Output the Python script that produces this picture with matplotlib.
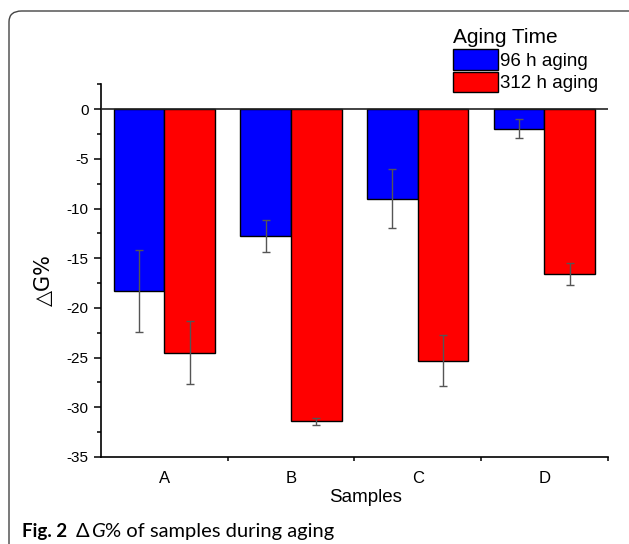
import matplotlib
matplotlib.use("Agg")
import matplotlib.pyplot as plt
from matplotlib.patches import FancyBboxPatch, Patch
import numpy as np

categories = ["A", "B", "C", "D"]
series_names = ["96 h aging", "312 h aging"]
vals_96 = [-18.3, -12.8, -9.0, -1.95]
err_96 = [4.1, 1.6, 2.95, 1.0]
vals_312 = [-24.5, -31.4, -25.3, -16.6]
err_312 = [3.15, 0.35, 2.55, 1.07]
legend_title = "Aging Time"
x_label = "Samples"
y_label = "\u25b3G%"

W, H = 629, 544
plt.rcParams['font.family'] = ['Liberation Sans', 'DejaVu Sans']
plt.rcParams['axes.unicode_minus'] = False
fig = plt.figure(figsize=(W / 100, H / 100), dpi=100)

# rounded frame of the figure box
frame = FancyBboxPatch((9 / W, 1 - 560 / H), (645 - 9) / W, (560 - 11) / H,
                       boxstyle="round,pad=0,rounding_size=0.02",
                       transform=fig.transFigure, fill=False,
                       edgecolor="#444444", linewidth=1.0)
fig.patches.append(frame)

ax = fig.add_axes([101 / W, 1 - 457 / H, (607.7 - 101) / W, (457 - 84.3) / H])
x = np.arange(1, len(categories) + 1)
bw = 0.4
ax.bar(x - bw / 2, vals_96, bw, color="#0000FF", edgecolor="black", linewidth=1.0,
       zorder=2)
ax.bar(x + bw / 2, vals_312, bw, color="#FF0000", edgecolor="black", linewidth=1.0,
       zorder=2)
ax.errorbar(x - bw / 2, vals_96, yerr=err_96, fmt="none", ecolor="#555555",
            elinewidth=1.0, capsize=3.2, capthick=1.0, zorder=3)
ax.errorbar(x + bw / 2, vals_312, yerr=err_312, fmt="none", ecolor="#555555",
            elinewidth=1.0, capsize=3.2, capthick=1.0, zorder=3)
ax.axhline(0, color="#222222", linewidth=1.2, zorder=4)

ax.set_xlim(0.5, 4.5)
ax.set_ylim(-35, 2.5)
ax.spines["top"].set_visible(False)
ax.spines["right"].set_visible(False)
for s in ("left", "bottom"):
    ax.spines[s].set_linewidth(1.2)
ax.set_yticks(np.arange(-35, 1, 5))
ax.set_yticks(np.arange(-35, 2.6, 2.5), minor=True)
ax.tick_params(axis="y", which="major", direction="out", length=5, width=1.1,
               labelsize=11, pad=4)
ax.tick_params(axis="y", which="minor", direction="out", length=3, width=1.1)
ax.set_xticks(x)
ax.set_xticklabels(categories, fontsize=12)
ax.set_xticks(np.arange(1.5, 4.6, 1.0), minor=True)
ax.tick_params(axis="x", which="major", length=0, pad=10)
ax.tick_params(axis="x", which="minor", direction="out", length=3, width=1.1)

fig.text(366 / W, 1 - 498 / H, x_label, fontsize=13.5, ha="center", va="center")
fig.text(44 / W, 1 - 280 / H, y_label, fontsize=15, ha="center", va="center",
         rotation=90, family=['DejaVu Sans'])

handles = [Patch(facecolor="#0000FF", edgecolor="black", linewidth=1.0),
           Patch(facecolor="#FF0000", edgecolor="black", linewidth=1.0)]
leg = fig.legend(handles, series_names, title=legend_title, loc="upper left",
                 bbox_to_anchor=(453 / W, 1 - 28 / H), frameon=False,
                 fontsize=13.5, title_fontsize=15, handlelength=2.4,
                 handleheight=1.3, handletextpad=0.12, labelspacing=0.12,
                 borderpad=0.0, borderaxespad=0.0)
leg._legend_box.align = "left"

# caption
fig.canvas.draw()
r = fig.canvas.get_renderer()
cap_y = 1 - 537 / H
cap_font = ["Lato", "DejaVu Sans"]
t1 = fig.text(22 / W, cap_y, "Fig. 2", fontsize=13.5, fontweight="bold",
              family=cap_font, va="baseline")
ex = t1.get_window_extent(r)
t2 = fig.text((ex.x1 + 9) / W, cap_y, "\u0394", fontsize=14.5,
              family=cap_font, va="baseline")
ex = t2.get_window_extent(r)
t3 = fig.text((ex.x1 + 1) / W, cap_y, "G", fontsize=14.5, style="italic",
              family=cap_font, va="baseline")
ex = t3.get_window_extent(r)
t4 = fig.text((ex.x1 + 0.5) / W, cap_y, "% of samples during aging", fontsize=14.5,
              family=cap_font, va="baseline")

fig.savefig("out.png", dpi=100)
